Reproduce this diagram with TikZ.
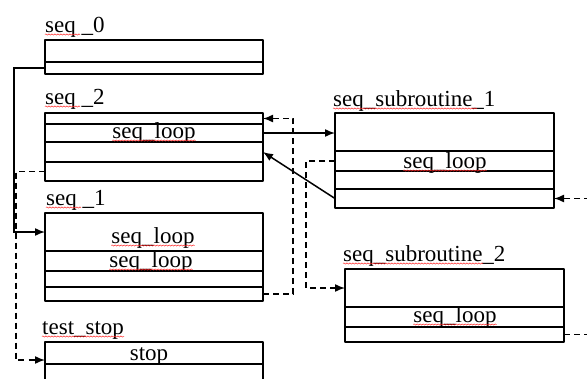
\documentclass[tikz,border=0pt]{standalone}
\usepackage{fontspec}
\setmainfont{Liberation Serif}
\usetikzlibrary{positioning,arrows.meta,decorations.pathmorphing}

\begin{document}
\begin{tikzpicture}[
        x=1pt, y=-1pt,
        font=\fontsize{23}{26}\selectfont,
        rowbox/.style={
            rectangle,
            draw=black,
            line width=1.6pt,
            line join=round,
            minimum width=218pt,
            inner sep=0pt,
            outer sep=0pt
        },
        title/.style={anchor=base west, inner sep=0pt},
        entry/.style={anchor=base, inner sep=0pt},
        plain/.style={line width=1.5pt, draw},
        arrow/.style={-{Latex[length=10pt,width=8pt]}, line width=1.5pt, draw},
        jump/.style={arrow, dash pattern=on 6pt off 4pt},
        spell/.style={
            draw=red!85, 
            line width=0.5pt, 
            decorate, 
            decoration={snake, amplitude=0.6pt, segment length=3pt}
        }
    ]
        \useasboundingbox (0,0) rectangle (587,378);
        \clip (0,0) rectangle (587,378);

        % seq_0
        \node[rowbox, anchor=north west, minimum height=22pt] (s0a) at (45,40) {};
        \node[rowbox, below=0pt of s0a, minimum height=12pt] (s0b) {};
        \node[title] (s0title) at (45,32) {seq \_0};

        % seq_2
        \node[rowbox, anchor=north west, minimum height=11pt] (s2a) at (45,113) {};
        \node[rowbox, below=0pt of s2a, minimum height=18pt] (s2b) {};
        \node[rowbox, below=0pt of s2b, minimum height=20pt] (s2c) {};
        \node[rowbox, below=0pt of s2c, minimum height=19pt] (s2d) {};
        \node[title] (s2title) at (45,104) {seq \_2};
        \node[entry] (s2loop) at (154,138) {seq\_loop};

        % seq_1
        \node[rowbox, anchor=north west, minimum height=38pt] (s1a) at (45,213) {};
        \node[rowbox, below=0pt of s1a, minimum height=20pt] (s1b) {};
        \node[rowbox, below=0pt of s1b, minimum height=16pt] (s1c) {};
        \node[rowbox, below=0pt of s1c, minimum height=14pt] (s1d) {};
        \node[title] (s1title) at (46,205) {seq \_1};
        \node[entry] (s1loopa) at (153,243) {seq\_loop};
        \node[entry] (s1loopb) at (151,267) {seq\_loop};

        % test_stop
        \node[rowbox, anchor=north west, minimum height=22pt] (tsa) at (45,342) {};
        \node[rowbox, below=0pt of tsa, minimum height=24pt] (tsb) {};
        \node[title] (tstitle) at (42,334) {test\_stop};
        \node[entry] (tsstop) at (149,360) {stop};

        % seq_subroutine_1
        \node[rowbox, anchor=north west, minimum width=219pt, minimum height=38pt] (sr1a) at (335,113) {};
        \node[rowbox, below=0pt of sr1a, minimum width=219pt, minimum height=20pt] (sr1b) {};
        \node[rowbox, below=0pt of sr1b, minimum width=219pt, minimum height=18pt] (sr1c) {};
        \node[rowbox, below=0pt of sr1c, minimum width=219pt, minimum height=19pt] (sr1d) {};
        \node[title] (sr1title) at (333,106) {seq\_subroutine\_1};
        \node[entry] (sr1loop) at (445,168) {seq\_loop};

        % seq_subroutine_2
        \node[rowbox, anchor=north west, minimum width=219pt, minimum height=38pt] (sr2a) at (345,269) {};
        \node[rowbox, below=0pt of sr2a, minimum width=219pt, minimum height=20pt] (sr2b) {};
        \node[rowbox, below=0pt of sr2b, minimum width=219pt, minimum height=15pt] (sr2c) {};
        \node[title] (sr2title) at (343,261) {seq\_subroutine\_2};
        \node[entry] (sr2loop) at (455,322) {seq\_loop};

        % spelling marks
        \draw[spell] ([yshift=-2.5pt]s0title.base west) -- ++(35pt,0pt);
        \draw[spell] ([yshift=-2.5pt]s2title.base west) -- ++(35pt,0pt);
        \draw[spell] ([yshift=-2.5pt]s1title.base west) -- ++(35pt,0pt);
        \draw[spell] ([yshift=-2.5pt]tstitle.base west) -- ([yshift=-2.5pt]tstitle.base east);
        \draw[spell] ([yshift=-2.5pt]sr1title.base west) -- ++(144pt,0pt);
        \draw[spell] ([yshift=-2.5pt]sr2title.base west) -- ++(140pt,0pt);
        \draw[spell] ([yshift=-2.5pt]s2loop.base west) -- ([yshift=-2.5pt]s2loop.base east);
        \draw[spell] ([yshift=-2.5pt]s1loopa.base west) -- ([yshift=-2.5pt]s1loopa.base east);
        \draw[spell] ([yshift=-2.5pt]s1loopb.base west) -- ([yshift=-2.5pt]s1loopb.base east);
        \draw[spell] ([yshift=-2.5pt]sr1loop.base west) -- ([yshift=-2.5pt]sr1loop.base east);
        \draw[spell] ([yshift=-2.5pt]sr2loop.base west) -- ([yshift=-2.5pt]sr2loop.base east);

        % left side
        \draw[arrow] (s0b.west) -- ++(-31pt,0pt) |- (s1a.west);
        \draw[jump] (s2d.west) -- ++(-29pt,0pt) |- ([yshift=-7pt]tsa.west);

        % seq_1 back to seq_2
        \draw[jump] (s1d.east) -- ++(30pt,0pt) |- (s2a.east);

        % calls to subroutines
        \draw[arrow] (s2b.east) -- (s2b.east -| sr1a.west);
        \draw[arrow] (sr1d.west) -- (s2c.east);
        \draw[jump] (sr1b.west) -- ++(-29pt,0pt) |- (sr2a.west);
        \draw[jump] (sr2c.east) -- ++(40pt,0pt) |- (sr1d.east);

    \end{tikzpicture}
\end{document}
